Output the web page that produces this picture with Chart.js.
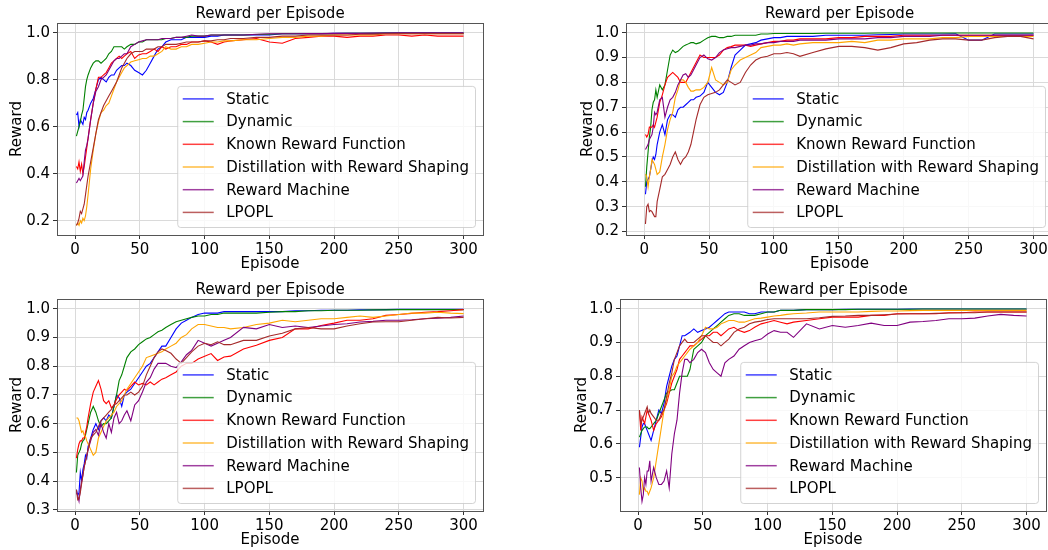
<!DOCTYPE html>
<html>
<head>
<meta charset="utf-8">
<title>Reward per Episode</title>
<script src="https://cdn.jsdelivr.net/npm/chart.js@4.4.1/dist/chart.umd.min.js"></script>
<style>
  html, body { margin: 0; padding: 0; background: #fff; overflow: hidden; width: 1048px; height: 550px; }
  canvas { position: absolute; }
</style>
</head>
<body>
<canvas id="c0"></canvas>
<canvas id="c1"></canvas>
<canvas id="c2"></canvas>
<canvas id="c3"></canvas>
<script>
// Reward curves, 4 runs x 6 methods

const episodes = [1,2,3,4,5,6,7,8,9,10, 12,14,16,18,20,22,24,26,28,30, 32,34,36,38,40, 43,46,49,52,55,
  58,61,64,67,70, 74,78,82,86,90, 95,100,105,110,115,120,
  130,140,150,160,170,180,190,200,210,220,230,240,250,260,270,280,290,300];

const seriesNames = ['Static', 'Dynamic', 'Known Reward Function', 'Distillation with Reward Shaping', 'Reward Machine', 'LPOPL'];
const seriesColors = ['#0000ff', '#008000', '#ff0000', '#ffa500', '#800080', '#a52a2a'];

const xTicks = [0, 50, 100, 150, 200, 250, 300];

// top left
const tlYTicks = [0.2, 0.4, 0.6, 0.8, 1.0];
const tlStatic = [0.65,0.66,0.60,0.63,0.62,0.61,0.64,0.63,0.66,0.67, 0.70,0.72,0.76,0.80,0.81,0.80,0.79,0.81,0.82,0.82, 0.84,0.85,0.86,0.86,0.87, 0.86,0.84,0.83,0.82,0.84,
  0.87,0.90,0.93,0.94,0.96, 0.97,0.97,0.97,0.98,0.98, 0.98,0.98,0.985,0.985,0.99,0.99,
  0.99,0.99,0.99,0.995,0.995,0.995,0.995,0.997,0.997,0.997,0.997,0.998,0.998,0.998,0.998,0.998,0.998,0.998];
const tlDynamic = [0.56,0.58,0.60,0.62,0.65,0.67,0.72,0.77,0.80,0.82, 0.85,0.87,0.88,0.88,0.87,0.88,0.89,0.91,0.92,0.94, 0.94,0.94,0.94,0.93,0.94, 0.95,0.95,0.96,0.96,0.97,
  0.97,0.97,0.97,0.97,0.975, 0.975,0.98,0.98,0.98,0.985, 0.985,0.985,0.99,0.99,0.99,0.99,
  0.99,0.992,0.993,0.995,0.995,0.995,0.996,0.996,0.997,0.997,0.997,0.998,0.998,0.998,0.998,0.998,0.998,0.998];
const tlKnown = [0.43,0.42,0.45,0.41,0.44,0.40,0.43,0.47,0.51,0.55, 0.63,0.70,0.76,0.81,0.81,0.82,0.83,0.85,0.87,0.88, 0.89,0.90,0.89,0.90,0.91, 0.92,0.89,0.905,0.91,0.91,
  0.92,0.93,0.92,0.94,0.93, 0.94,0.94,0.95,0.95,0.96, 0.96,0.965,0.96,0.95,0.96,0.965,
  0.97,0.975,0.96,0.955,0.975,0.98,0.985,0.985,0.98,0.985,0.985,0.99,0.99,0.985,0.99,0.985,0.985,0.985];
const tlDistill = [0.18,0.19,0.18,0.20,0.19,0.21,0.20,0.22,0.26,0.31, 0.42,0.50,0.57,0.62,0.66,0.67,0.69,0.70,0.73,0.76, 0.79,0.81,0.83,0.85,0.86, 0.875,0.88,0.885,0.89,0.89,
  0.90,0.90,0.91,0.92,0.94, 0.93,0.93,0.94,0.94,0.95, 0.95,0.955,0.96,0.96,0.965,0.965,
  0.97,0.97,0.975,0.98,0.98,0.985,0.985,0.99,0.99,0.99,0.99,0.995,0.995,0.995,0.995,0.995,0.995,0.995];
const tlMachine = [0.36,0.37,0.38,0.37,0.38,0.39,0.45,0.50,0.52,0.55, 0.63,0.70,0.75,0.77,0.80,0.81,0.82,0.84,0.86,0.88, 0.89,0.89,0.90,0.91,0.91, 0.94,0.95,0.96,0.965,0.97,
  0.97,0.97,0.97,0.975,0.975, 0.975,0.98,0.98,0.985,0.99, 0.985,0.985,0.99,0.99,0.99,0.99,
  0.99,0.993,0.995,0.995,0.995,0.996,0.996,0.997,0.997,0.997,0.998,0.998,0.999,0.999,0.999,0.999,0.999,0.999];
const tlLpopl = [0.18,0.19,0.21,0.24,0.23,0.25,0.27,0.31,0.35,0.39, 0.45,0.51,0.57,0.63,0.66,0.69,0.71,0.73,0.75,0.77, 0.79,0.82,0.85,0.87,0.89, 0.91,0.92,0.92,0.92,0.93,
  0.93,0.93,0.94,0.94,0.95, 0.95,0.95,0.955,0.96,0.96, 0.96,0.965,0.965,0.97,0.97,0.975,
  0.975,0.98,0.98,0.985,0.985,0.99,0.99,0.99,0.99,0.993,0.993,0.995,0.995,0.995,0.995,0.995,0.995,0.995];

// top right
const trYTicks = [0.2, 0.3, 0.4, 0.5, 0.6, 0.7, 0.8, 0.9, 1.0];
const trStatic = [0.35,0.40,0.41,0.42,0.45,0.48,0.50,0.49,0.51,0.55, 0.60,0.63,0.59,0.65,0.67,0.67,0.66,0.69,0.70,0.70, 0.71,0.72,0.73,0.73,0.74, 0.745,0.76,0.80,0.78,0.76,
  0.75,0.76,0.80,0.86,0.91, 0.93,0.95,0.955,0.96,0.97, 0.975,0.98,0.98,0.985,0.985,0.985,
  0.985,0.99,0.99,0.99,0.99,0.992,0.993,0.995,0.995,0.995,0.995,0.996,0.97,0.97,0.995,0.995,0.995,0.995];
const trDynamic = [0.38,0.46,0.52,0.58,0.62,0.69,0.72,0.73,0.77,0.74, 0.79,0.77,0.79,0.85,0.91,0.93,0.92,0.925,0.935,0.945, 0.95,0.955,0.96,0.96,0.955, 0.96,0.97,0.98,0.985,0.985,
  0.98,0.98,0.985,0.985,0.99, 0.99,0.99,0.99,0.99,0.995, 0.995,0.997,0.997,0.997,0.997,0.997,
  0.997,0.998,0.998,0.998,0.998,0.999,0.999,0.999,0.999,0.999,0.999,0.999,0.999,0.999,0.999,0.999,0.999,0.999];
const trKnown = [0.59,0.58,0.59,0.62,0.62,0.62,0.63,0.62,0.64,0.66, 0.72,0.75,0.79,0.82,0.83,0.84,0.83,0.82,0.80,0.80, 0.80,0.82,0.84,0.86,0.88, 0.91,0.90,0.90,0.90,0.90,
  0.91,0.93,0.94,0.944,0.95, 0.95,0.95,0.945,0.95,0.955, 0.96,0.965,0.965,0.97,0.97,0.975,
  0.975,0.975,0.98,0.98,0.985,0.985,0.985,0.99,0.99,0.99,0.99,0.99,0.99,0.99,0.99,0.99,0.99,0.99];
const trDistill = [0.43,0.42,0.38,0.42,0.45,0.49,0.48,0.47,0.45,0.43, 0.44,0.50,0.55,0.61,0.65,0.68,0.74,0.77,0.81,0.81, 0.80,0.78,0.765,0.765,0.77, 0.77,0.78,0.80,0.86,0.81,
  0.80,0.79,0.80,0.85,0.87, 0.89,0.90,0.91,0.92,0.94, 0.945,0.95,0.95,0.955,0.95,0.955,
  0.96,0.96,0.96,0.965,0.96,0.97,0.97,0.975,0.975,0.975,0.98,0.98,0.985,0.985,0.985,0.985,0.985,0.985];
const trMachine = [0.53,0.54,0.55,0.57,0.58,0.59,0.62,0.68,0.67,0.68, 0.73,0.74,0.66,0.70,0.73,0.74,0.76,0.79,0.81,0.83, 0.835,0.82,0.83,0.85,0.87, 0.90,0.91,0.895,0.89,0.90,
  0.92,0.93,0.935,0.94,0.94, 0.945,0.95,0.95,0.955,0.955, 0.96,0.96,0.965,0.965,0.965,0.97,
  0.97,0.97,0.975,0.975,0.975,0.98,0.98,0.985,0.985,0.985,0.99,0.99,0.99,0.99,0.99,0.99,0.99,0.99];
const trLpopl = [0.23,0.30,0.31,0.28,0.285,0.28,0.27,0.26,0.26,0.32, 0.37,0.42,0.43,0.45,0.47,0.50,0.52,0.49,0.47,0.49, 0.50,0.52,0.55,0.60,0.65, 0.71,0.74,0.75,0.755,0.76,
  0.77,0.79,0.81,0.80,0.79, 0.80,0.84,0.87,0.89,0.90, 0.905,0.915,0.915,0.92,0.915,0.905,
  0.92,0.935,0.945,0.945,0.94,0.93,0.94,0.955,0.96,0.97,0.975,0.975,0.97,0.97,0.98,0.985,0.985,0.975];

// bottom left
const blYTicks = [0.3, 0.4, 0.5, 0.6, 0.7, 0.8, 0.9, 1.0];
const blStatic = [0.37,0.35,0.36,0.43,0.40,0.44,0.46,0.49,0.48,0.52, 0.55,0.58,0.60,0.58,0.61,0.62,0.61,0.63,0.62,0.66, 0.70,0.69,0.66,0.70,0.71, 0.72,0.74,0.76,0.78,0.80,
  0.81,0.83,0.85,0.87,0.87, 0.90,0.93,0.95,0.96,0.97, 0.98,0.985,0.985,0.985,0.99,0.99,
  0.99,0.99,0.99,0.99,0.993,0.993,0.995,0.995,0.995,0.996,0.996,0.997,0.998,0.998,0.998,0.998,0.998,0.998];
const blDynamic = [0.43,0.49,0.50,0.51,0.53,0.54,0.545,0.56,0.58,0.60, 0.64,0.66,0.64,0.61,0.59,0.60,0.60,0.61,0.62,0.66, 0.70,0.75,0.77,0.80,0.83, 0.85,0.86,0.875,0.885,0.895,
  0.90,0.91,0.92,0.925,0.935, 0.945,0.955,0.96,0.965,0.97, 0.975,0.975,0.98,0.98,0.985,0.985,
  0.985,0.985,0.988,0.99,0.99,0.993,0.993,0.995,0.995,0.995,0.996,0.996,0.997,0.997,0.997,0.997,0.997,0.997];
const blKnown = [0.48,0.51,0.53,0.54,0.54,0.55,0.55,0.57,0.59,0.62, 0.67,0.71,0.73,0.75,0.72,0.68,0.67,0.68,0.655,0.665, 0.685,0.70,0.71,0.72,0.715, 0.73,0.745,0.735,0.74,0.735,
  0.745,0.735,0.745,0.755,0.76, 0.77,0.78,0.80,0.81,0.81, 0.825,0.835,0.844,0.82,0.832,0.835,
  0.86,0.873,0.89,0.90,0.93,0.93,0.942,0.95,0.96,0.96,0.965,0.977,0.98,0.984,0.988,0.99,0.993,0.997];
const blDistill = [0.62,0.62,0.61,0.59,0.57,0.575,0.56,0.555,0.54,0.53, 0.51,0.49,0.50,0.55,0.57,0.59,0.61,0.62,0.63,0.64, 0.66,0.67,0.68,0.70,0.72, 0.74,0.76,0.78,0.80,0.83,
  0.835,0.84,0.845,0.85,0.86, 0.87,0.88,0.90,0.91,0.93, 0.945,0.945,0.94,0.935,0.935,0.93,
  0.935,0.945,0.95,0.96,0.955,0.96,0.965,0.965,0.97,0.975,0.97,0.975,0.98,0.985,0.985,0.988,0.985,0.983];
const blMachine = [0.36,0.35,0.33,0.37,0.40,0.42,0.45,0.47,0.49,0.51, 0.54,0.57,0.58,0.56,0.60,0.57,0.55,0.60,0.57,0.62, 0.64,0.60,0.61,0.63,0.645, 0.61,0.665,0.68,0.71,0.745,
  0.76,0.79,0.81,0.81,0.81, 0.80,0.795,0.815,0.84,0.855, 0.89,0.88,0.87,0.88,0.89,0.90,
  0.935,0.93,0.945,0.935,0.94,0.935,0.94,0.945,0.948,0.954,0.956,0.96,0.96,0.962,0.965,0.967,0.97,0.975];
const blLpopl = [0.37,0.335,0.34,0.36,0.39,0.42,0.45,0.47,0.49,0.51, 0.55,0.56,0.57,0.59,0.61,0.62,0.63,0.64,0.65,0.665, 0.67,0.68,0.69,0.70,0.70, 0.71,0.70,0.71,0.73,0.77,
  0.80,0.83,0.85,0.86,0.855, 0.845,0.825,0.81,0.83,0.85, 0.87,0.88,0.875,0.885,0.875,0.875,
  0.89,0.89,0.905,0.915,0.93,0.935,0.93,0.93,0.94,0.948,0.954,0.955,0.955,0.96,0.965,0.97,0.968,0.97];

// bottom right
const brYTicks = [0.5, 0.6, 0.7, 0.8, 0.9, 1.0];
const brStatic = [0.59,0.62,0.65,0.66,0.66,0.65,0.64,0.63,0.62,0.61, 0.64,0.67,0.70,0.69,0.72,0.77,0.80,0.83,0.85,0.86, 0.89,0.92,0.92,0.925,0.93, 0.94,0.93,0.935,0.94,0.945,
  0.955,0.965,0.975,0.985,0.99, 0.99,0.99,0.99,0.985,0.985, 0.99,0.99,0.99,0.995,0.995,0.995,
  0.997,0.997,0.997,0.998,0.998,0.998,0.998,0.998,0.999,0.999,0.999,0.999,0.999,0.999,0.999,0.999,0.999,0.999];
const brDynamic = [0.62,0.63,0.64,0.645,0.65,0.65,0.65,0.645,0.645,0.65, 0.66,0.67,0.69,0.71,0.73,0.75,0.755,0.76,0.76,0.78, 0.80,0.80,0.80,0.80,0.82, 0.88,0.89,0.90,0.92,0.93,
  0.94,0.95,0.96,0.97,0.98, 0.985,0.985,0.98,0.98,0.98, 0.985,0.99,0.99,0.995,0.995,0.995,
  0.997,0.997,0.997,0.997,0.998,0.998,0.998,0.998,0.998,0.999,0.999,0.999,0.999,0.999,0.999,0.999,0.999,0.999];
const brKnown = [0.70,0.64,0.68,0.67,0.66,0.68,0.70,0.69,0.68,0.67, 0.64,0.66,0.67,0.68,0.70,0.72,0.75,0.78,0.80,0.82, 0.85,0.86,0.87,0.88,0.89, 0.89,0.90,0.91,0.92,0.92,
  0.93,0.93,0.92,0.93,0.94, 0.945,0.935,0.93,0.935,0.945, 0.955,0.96,0.965,0.96,0.955,0.96,
  0.965,0.97,0.975,0.975,0.975,0.98,0.98,0.985,0.985,0.985,0.985,0.988,0.988,0.99,0.99,0.99,0.99,0.99];
const brDistill = [0.45,0.50,0.49,0.46,0.47,0.46,0.46,0.45,0.46,0.47, 0.50,0.55,0.60,0.65,0.70,0.73,0.76,0.80,0.81,0.83, 0.84,0.85,0.86,0.87,0.88, 0.89,0.90,0.92,0.945,0.94,
  0.94,0.945,0.955,0.96,0.965, 0.965,0.96,0.96,0.965,0.97, 0.972,0.975,0.978,0.98,0.983,0.985,
  0.987,0.99,0.99,0.99,0.99,0.992,0.993,0.993,0.994,0.995,0.995,0.995,0.995,0.995,0.995,0.995,0.995,0.995];
const brMachine = [0.53,0.47,0.43,0.45,0.50,0.48,0.52,0.52,0.55,0.49, 0.53,0.50,0.48,0.48,0.49,0.52,0.47,0.57,0.63,0.67, 0.75,0.81,0.85,0.85,0.84, 0.85,0.87,0.88,0.87,0.84,
  0.82,0.81,0.80,0.84,0.85, 0.86,0.88,0.89,0.90,0.905, 0.91,0.925,0.935,0.93,0.93,0.915,
  0.955,0.94,0.95,0.945,0.95,0.957,0.95,0.95,0.96,0.962,0.965,0.97,0.97,0.972,0.978,0.983,0.98,0.978];
const brLpopl = [0.70,0.66,0.67,0.68,0.69,0.70,0.71,0.69,0.70,0.69, 0.68,0.67,0.67,0.69,0.70,0.74,0.78,0.81,0.85,0.87, 0.89,0.90,0.91,0.90,0.90, 0.90,0.91,0.92,0.92,0.91,
  0.90,0.90,0.89,0.90,0.91, 0.93,0.94,0.945,0.955,0.96, 0.963,0.968,0.97,0.97,0.97,0.97,
  0.97,0.973,0.977,0.978,0.98,0.98,0.982,0.984,0.985,0.985,0.986,0.987,0.988,0.988,0.99,0.99,0.99,0.99];

Chart.defaults.font.family = "'DejaVu Sans', sans-serif";
Chart.defaults.font.size = 15;
Chart.defaults.color = '#000';

const CANVAS_W = 530;
const CANVAS_H = 275;
const Y_AXIS_W = 57;

// page coords of each subplot's frame and labels
const panels = [
  { id: 'c0', yTicks: tlYTicks, yMin: 0.139, yMax: 1.041,
    series: [tlStatic, tlDynamic, tlKnown, tlDistill, tlMachine, tlLpopl],
    top: 0, plotLeft: 57, plotTop: 23, plotRight: 483, plotBottom: 235, titleY: 14, yTitleX: 16.7, xTitleY: 264 },
  { id: 'c1', yTicks: trYTicks, yMin: 0.186, yMax: 1.039,
    series: [trStatic, trDynamic, trKnown, trDistill, trMachine, trLpopl],
    top: 0, plotLeft: 626, plotTop: 23, plotRight: 1053, plotBottom: 235, titleY: 14, yTitleX: 588, xTitleY: 264 },
  { id: 'c2', yTicks: blYTicks, yMin: 0.296, yMax: 1.034,
    series: [blStatic, blDynamic, blKnown, blDistill, blMachine, blLpopl],
    top: 275, plotLeft: 57, plotTop: 299, plotRight: 483, plotBottom: 511, titleY: 290, yTitleX: 16.7, xTitleY: 540.5 },
  { id: 'c3', yTicks: brYTicks, yMin: 0.4015, yMax: 1.0285,
    series: [brStatic, brDynamic, brKnown, brDistill, brMachine, brLpopl],
    top: 275, plotLeft: 620, plotTop: 299, plotRight: 1046, plotBottom: 511, titleY: 290, yTitleX: 581.7, xTitleY: 540.5 }
];

// legend in the lower right of the axes + the axes frame
const insideLegend = {
  id: 'insideLegend',
  afterDraw(chart) {
    const ctx = chart.ctx;
    const area = chart.chartArea;
    ctx.save();
    ctx.font = "15px 'DejaVu Sans'";
    let textW = 0;
    seriesNames.forEach(n => { textW = Math.max(textW, ctx.measureText(n).width); });
    const rowH = 22.7;
    const w = textW + 55;
    const h = 27.6 + rowH * (seriesNames.length - 1);
    const x0 = area.right - 8 - w;
    const y0 = area.bottom - 8 - h;

    ctx.fillStyle = 'rgba(255,255,255,0.8)';
    ctx.strokeStyle = 'rgba(200,200,200,0.8)';
    ctx.lineWidth = 1;
    ctx.beginPath();
    ctx.roundRect(x0 + 0.5, y0 + 0.5, w, h, 3);
    ctx.fill();
    ctx.stroke();

    seriesNames.forEach((name, i) => {
      const cy = y0 + 13 + i * rowH;
      ctx.strokeStyle = seriesColors[i];
      ctx.globalAlpha = 0.75;
      ctx.lineWidth = 1.5;
      ctx.beginPath();
      ctx.moveTo(x0 + 5.5, cy);
      ctx.lineTo(x0 + 36.5, cy);
      ctx.stroke();
      ctx.globalAlpha = 1;
      ctx.fillStyle = '#000';
      ctx.textBaseline = 'middle';
      ctx.textAlign = 'left';
      ctx.fillText(name, x0 + 49, cy + 1);
    });

    ctx.strokeStyle = '#555';
    ctx.lineWidth = 1;
    ctx.strokeRect(Math.round(area.left) + 0.5, Math.round(area.top) + 0.5,
      Math.round(area.right - area.left), Math.round(area.bottom - area.top));
    ctx.restore();
  }
};

function makeChart(p) {
  const canvasLeft = p.plotLeft - Y_AXIS_W;
  const canvas = document.getElementById(p.id);
  canvas.width = CANVAS_W;
  canvas.height = CANVAS_H;
  canvas.style.left = canvasLeft + 'px';
  canvas.style.top = p.top + 'px';

  const titleH = p.plotTop - p.top;
  const titlePadTop = p.titleY - p.top - 9;
  const xAxisH = p.top + CANVAS_H - p.plotBottom;

  return new Chart(canvas, {
    type: 'line',
    data: {
      datasets: seriesNames.map((name, i) => ({
        label: name,
        data: episodes.map((x, k) => ({ x: x, y: p.series[i][k] })),
        borderColor: seriesColors[i],
        borderWidth: 1.1,
        pointRadius: 0,
        fill: false,
        tension: 0,
        order: seriesNames.length - i
      }))
    },
    options: {
      responsive: false,
      animation: false,
      devicePixelRatio: 1,
      layout: { padding: { left: 0, top: 0, bottom: 0, right: canvasLeft + CANVAS_W - p.plotRight } },
      plugins: {
        legend: { display: false },
        tooltip: { enabled: false },
        title: {
          display: true,
          text: 'Reward per Episode',
          fullSize: false,
          font: { size: 15, weight: 'normal' },
          padding: { top: titlePadTop, bottom: Math.max(0, titleH - 18 - titlePadTop) }
        }
      },
      scales: {
        x: {
          type: 'linear',
          min: -14,
          max: 315,
          afterFit: s => { s.height = xAxisH; },
          afterBuildTicks: s => { s.ticks = xTicks.map(v => ({ value: v })); },
          ticks: { autoSkip: false, maxRotation: 0, padding: 2, callback: v => String(v) },
          grid: { color: '#dadada', tickColor: '#333', tickLength: 4 },
          border: { display: false },
          title: { display: true, text: 'Episode', font: { size: 15 },
            padding: { top: 0, bottom: p.top + CANVAS_H - p.xTitleY - 9 } }
        },
        y: {
          type: 'linear',
          min: p.yMin,
          max: p.yMax,
          afterFit: s => { s.width = Y_AXIS_W; },
          afterBuildTicks: s => { s.ticks = p.yTicks.map(v => ({ value: v })); },
          ticks: { autoSkip: false, padding: 3, callback: v => v.toFixed(1) },
          grid: { color: '#dadada', tickColor: '#333', tickLength: 4 },
          border: { display: false },
          title: { display: true, text: 'Reward', font: { size: 15 },
            padding: { top: p.yTitleX - canvasLeft - 9, bottom: 0 } }
        }
      }
    },
    plugins: [insideLegend]
  });
}

panels.forEach(makeChart);
</script>
</body>
</html>
